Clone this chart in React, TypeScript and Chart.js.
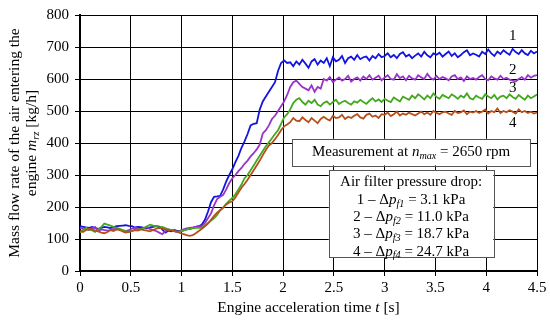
import React, { useEffect, useRef } from "react";
import { Chart, registerables } from "chart.js";

Chart.register(...registerables);

const SAMPLE_STEP = 0.03; // s between samples
const X_TICKS_STEP = 0.5;
const Y_TICKS_STEP = 100;

const series1 = [
  140,138,136,135,138,134,132,135,138,136,
  134,137,140,141,142,143,141,140,136,138,
  137,135,133,136,138,140,139,130,120,126,
  124,128,125,124,127,130,132,134,138,140,
  145,160,185,215,232,233,235,255,280,300,
  318,340,360,385,405,428,455,460,462,505,
  530,545,560,575,590,625,650,658,650,652,
  640,655,645,660,648,635,655,662,645,658,
  650,665,640,668,655,660,672,650,665,670,
  660,675,662,668,670,658,672,665,678,668,
  672,680,668,675,665,678,684,670,676,665,
  673,680,670,685,674,668,680,676,682,670,
  678,686,672,680,668,675,684,690,674,680,
  676,670,685,678,692,680,672,686,678,690,
  682,676,694,684,678,690,680,675,688,680,686,
];
const series2 = [
  135,132,130,128,134,137,125,130,128,126,
  128,131,134,130,127,125,128,132,135,133,
  130,134,137,131,128,125,120,115,124,130,
  128,124,122,126,130,133,135,136,138,140,
  140,150,165,180,205,225,232,238,255,275,
  290,300,312,322,335,345,358,368,380,395,
  430,440,455,475,485,500,515,530,550,575,
  590,595,585,575,570,565,580,560,575,570,
  600,595,606,590,598,605,595,600,610,592,
  600,605,595,608,600,612,598,604,610,596,
  605,612,600,598,615,603,608,596,610,602,
  598,612,605,600,616,604,598,610,600,606,
  602,596,608,612,600,605,594,608,600,603,
  598,606,612,600,596,608,602,598,610,600,
  604,598,595,592,600,606,598,612,604,610,612,
];
const series3 = [
  120,128,135,130,127,122,130,138,148,145,
  142,138,135,132,128,125,122,125,128,130,
  132,135,140,145,142,140,136,138,134,130,
  128,125,122,124,127,130,132,134,135,135,
  135,142,150,158,165,175,190,198,210,220,
  228,240,255,270,290,300,315,330,345,360,
  375,390,402,415,428,440,460,480,490,505,
  525,535,540,528,520,532,525,535,520,515,
  525,530,520,528,535,522,528,532,525,520,
  530,526,535,528,522,532,540,530,536,528,
  538,532,528,542,536,530,545,540,535,548,
  540,552,545,536,548,540,555,544,538,550,
  545,540,552,546,538,548,542,555,540,536,
  548,542,538,552,545,540,550,536,545,548,
  540,552,544,538,550,542,535,548,540,545,552,
];
const series4 = [
  125,122,128,132,130,126,124,120,118,122,
  128,125,130,128,124,120,122,125,128,126,
  130,128,126,124,128,132,135,133,130,128,
  128,125,122,118,115,112,110,112,118,125,
  132,140,148,160,172,182,190,198,208,214,
  218,230,245,260,272,285,300,315,330,345,
  362,378,392,400,412,425,440,452,458,465,
  478,470,468,480,472,465,478,470,462,475,
  482,475,470,485,478,480,488,475,482,478,
  485,490,480,476,488,492,482,486,478,490,
  488,495,484,490,498,486,492,488,495,490,
  486,492,498,490,495,488,500,494,490,496,
  498,492,488,500,494,496,502,490,498,495,
  500,494,498,505,492,500,496,508,494,500,
  496,502,498,492,505,496,500,494,498,492,495,
];

const seriesValues = [series1, series2, series3, series4];
const seriesColors = ["#1414E0", "#9A34C8", "#44A81E", "#B4501E"];
const seriesNames = ["1", "2", "3", "4"];
// positions (t, value) where the curve numbers are written
const seriesLabelT = [4.26, 4.26, 4.26, 4.26];
const seriesLabelV = [733, 628, 573, 462];

const legendTitle = "Air filter pressure drop:";
const legendIdx = ["1", "2", "3", "4"];
const legendSub = ["f1", "f2", "f3", "f4"];
const legendVal = ["3.1 kPa", "11.0 kPa", "18.7 kPa", "24.7 kPa"];

const FONT = '"Liberation Serif", "Times New Roman", serif';

type Seg = { t: string; i?: boolean; s?: boolean };

function drawRich(ctx: CanvasRenderingContext2D, segs: Seg[], cx: number, cy: number, size: number) {
  const fontFor = (g: Seg) => `${g.i ? "italic " : ""}${g.s ? size * 0.68 : size}px ${FONT}`;
  let total = 0;
  const widths = segs.map((g) => {
    ctx.font = fontFor(g);
    const w = ctx.measureText(g.t).width;
    total += w;
    return w;
  });
  let x = cx - total / 2;
  ctx.textAlign = "left";
  ctx.textBaseline = "middle";
  segs.forEach((g, k) => {
    ctx.font = fontFor(g);
    ctx.fillText(g.t, x, g.s ? cy + size * 0.28 : cy);
    x += widths[k];
  });
}

const annotPlugin = {
  id: "annot",
  afterDatasetsDraw(chart: any) {
    const ctx: CanvasRenderingContext2D = chart.ctx;
    const xs = chart.scales.x;
    const ys = chart.scales.y;
    ctx.save();
    ctx.fillStyle = "#000";
    seriesNames.forEach((n, k) => {
      drawRich(ctx, [{ t: n }], xs.getPixelForValue(seriesLabelT[k]), ys.getPixelForValue(seriesLabelV[k]), 15);
    });
    const b1x0 = xs.getPixelForValue(2.09), b1x1 = xs.getPixelForValue(4.43);
    const b1y0 = ys.getPixelForValue(413), b1y1 = ys.getPixelForValue(330);
    ctx.fillStyle = "#fff";
    ctx.fillRect(b1x0, b1y0, b1x1 - b1x0, b1y1 - b1y0);
    ctx.strokeStyle = "#555";
    ctx.lineWidth = 1;
    ctx.strokeRect(Math.round(b1x0) + 0.5, Math.round(b1y0) + 0.5, Math.round(b1x1 - b1x0), Math.round(b1y1 - b1y0));
    ctx.fillStyle = "#000";
    drawRich(ctx, [{ t: "Measurement at " }, { t: "n", i: true }, { t: "max", i: true, s: true }, { t: " = 2650 rpm" }],
      (b1x0 + b1x1) / 2, (b1y0 + b1y1) / 2, 15);
    const b2x0 = xs.getPixelForValue(2.45), b2x1 = xs.getPixelForValue(4.07);
    const b2y0 = ys.getPixelForValue(315), b2y1 = ys.getPixelForValue(42);
    ctx.fillStyle = "#fff";
    ctx.fillRect(b2x0, b2y0, b2x1 - b2x0, b2y1 - b2y0);
    ctx.strokeStyle = "#555";
    ctx.strokeRect(Math.round(b2x0) + 0.5, Math.round(b2y0) + 0.5, Math.round(b2x1 - b2x0), Math.round(b2y1 - b2y0));
    ctx.fillStyle = "#000";
    const cx = (b2x0 + b2x1) / 2;
    drawRich(ctx, [{ t: legendTitle }], cx, b2y0 + 12, 15);
    legendIdx.forEach((n, k) => {
      drawRich(ctx, [{ t: n + " \u2013 \u0394" }, { t: "p", i: true }, { t: legendSub[k], i: true, s: true }, { t: " = " + legendVal[k] }],
        cx, b2y0 + 29.5 + k * 17.3, 15);
    });
    ctx.restore();
  },
  afterDraw(chart: any) {
    const ctx: CanvasRenderingContext2D = chart.ctx;
    const area = chart.chartArea;
    ctx.save();
    ctx.fillStyle = "#000";
    drawRich(ctx, [{ t: "Engine acceleration time " }, { t: "t", i: true }, { t: " [s]" }],
      (area.left + area.right) / 2, 308, 15.5);
    const cy = (area.top + area.bottom) / 2;
    ctx.translate(15, cy);
    ctx.rotate(-Math.PI / 2);
    drawRich(ctx, [{ t: "Mass flow rate of the air entering the" }], 0, 0, 15.5);
    drawRich(ctx, [{ t: "engine " }, { t: "m", i: true }, { t: "rz", i: true, s: true }, { t: " [kg/h]" }], 0, 17, 15.5);
    ctx.restore();
  },
};

export default function App() {
  const ref = useRef<HTMLCanvasElement | null>(null);
  useEffect(() => {
    if (!ref.current) return;
    const datasets = seriesValues.map((vals, k) => ({
      label: seriesNames[k],
      data: vals.map((v, i) => ({ x: i * SAMPLE_STEP, y: v })),
      borderColor: seriesColors[k],
      backgroundColor: seriesColors[k],
      borderWidth: 1.8,
      pointRadius: 0,
      tension: 0,
      fill: false,
    }));
    const tickFont = { family: FONT, size: 15 };
    const chart = new Chart(ref.current, {
      type: "line",
      data: { datasets: [...datasets].reverse() as any },
      options: {
        animation: false,
        responsive: false,
        layout: { padding: { top: 10, right: 13, left: 0, bottom: 0 } },
        plugins: { legend: { display: false }, tooltip: { enabled: false } },
        scales: {
          x: {
            type: "linear",
            min: 0,
            max: 4.5,
            ticks: { stepSize: X_TICKS_STEP, color: "#000", font: tickFont, padding: 3, callback: (v: any) => String(v) },
            grid: { color: "#000", lineWidth: 1, tickLength: 5 },
            border: { color: "#000", width: 2 },
            afterFit: (s: any) => { s.height = 50; },
          },
          y: {
            type: "linear",
            min: 0,
            max: 800,
            ticks: { stepSize: Y_TICKS_STEP, color: "#000", font: tickFont, padding: 6, callback: (v: any) => String(v) },
            grid: { color: "#000", lineWidth: 1, tickLength: 5 },
            border: { color: "#000", width: 2 },
            afterFit: (s: any) => { s.width = 80; },
          },
        },
      },
      plugins: [annotPlugin],
    });
    return () => chart.destroy();
  }, []);
  return (
    <div style={{ position: "fixed", left: 0, top: 0, width: 550, height: 321, background: "#fff" }}>
      <canvas ref={ref} width={550} height={321} style={{ width: 550, height: 321, display: "block" }} />
    </div>
  );
}
